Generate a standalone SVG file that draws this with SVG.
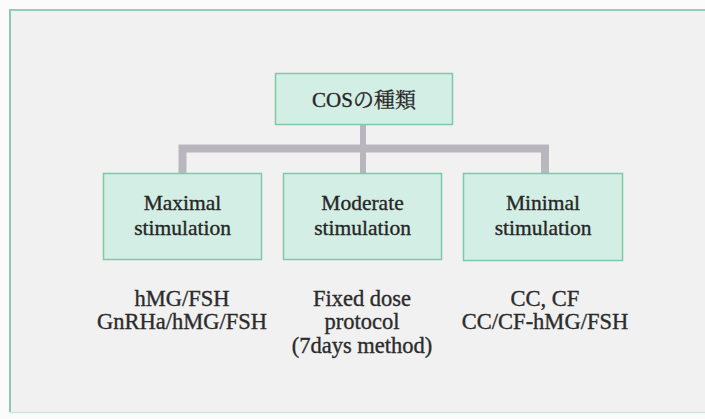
<svg xmlns="http://www.w3.org/2000/svg" width="705" height="419" viewBox="0 0 705 419">
  <style>
    .box { fill: #d3eee4; stroke: #7fc9aa; stroke-width: 1.5; }
    .bar { fill: none; stroke: #b9b7bd; stroke-width: 8; stroke-linejoin: miter; }
    .stem { fill: none; stroke: #b9b7bd; stroke-width: 6; }
    .ink { stroke: #2a2a2a; stroke-width: 0.35; }
  </style>

  <!-- page background and frame -->
  <rect x="0" y="0" width="705" height="419" fill="#fbfbfb"/>
  <rect x="10" y="10" width="695" height="402" fill="#f1f1f1"/>
  <line x1="10" y1="10" x2="705" y2="10" stroke="#95cdb8" stroke-width="2"/>
  <line x1="10" y1="9" x2="10" y2="412" stroke="#88cab2" stroke-width="2"/>
  <line x1="10" y1="412.5" x2="705" y2="412.5" stroke="#cfe6dd" stroke-width="1.5"/>

  <!-- connectors -->
  <g id="connectors">
    <line class="stem" x1="363" y1="124" x2="363" y2="149"/>
    <polyline class="bar" points="182.5,173 182.5,148.5 545,148.5 545,173"/>
    <line class="stem" x1="363" y1="149" x2="363" y2="173"/>
  </g>

  <!-- root node -->
  <g id="node-cos">
    <rect class="box" x="275.5" y="73.5" width="177" height="51"/>
    <text class="ink" x="364" y="107" font-family="Liberation Serif, Noto Serif CJK JP, serif" font-size="21" fill="#262626" text-anchor="middle">COSの種類</text>
  </g>

  <!-- stimulation categories -->
  <g id="node-maximal">
    <rect class="box" x="103.5" y="173.5" width="158" height="86"/>
    <text class="ink" x="182.5" y="210" font-family="Liberation Serif" font-size="21.5" fill="#262626" text-anchor="middle">Maximal</text>
    <text class="ink" x="182.5" y="235" font-family="Liberation Serif" font-size="21.5" fill="#262626" text-anchor="middle">stimulation</text>
  </g>
  <g id="node-moderate">
    <rect class="box" x="283.5" y="173.5" width="158" height="86"/>
    <text class="ink" x="362.5" y="210" font-family="Liberation Serif" font-size="21.5" fill="#262626" text-anchor="middle">Moderate</text>
    <text class="ink" x="362.5" y="235" font-family="Liberation Serif" font-size="21.5" fill="#262626" text-anchor="middle">stimulation</text>
  </g>
  <g id="node-minimal">
    <rect class="box" x="463.5" y="173.5" width="159" height="87"/>
    <text class="ink" x="543" y="210" font-family="Liberation Serif" font-size="21.5" fill="#262626" text-anchor="middle">Minimal</text>
    <text class="ink" x="543" y="235" font-family="Liberation Serif" font-size="21.5" fill="#262626" text-anchor="middle">stimulation</text>
  </g>

  <!-- protocol notes under each category -->
  <g id="note-maximal">
    <text class="ink" x="182" y="306" font-family="Liberation Serif" font-size="22.5" fill="#2c2c2c" text-anchor="middle">hMG/FSH</text>
    <text class="ink" x="182" y="329" font-family="Liberation Serif" font-size="22.5" fill="#2c2c2c" text-anchor="middle">GnRHa/hMG/FSH</text>
  </g>
  <g id="note-moderate">
    <text class="ink" x="362" y="306" font-family="Liberation Serif" font-size="22.5" fill="#2c2c2c" text-anchor="middle">Fixed dose</text>
    <text class="ink" x="362" y="329" font-family="Liberation Serif" font-size="22.5" fill="#2c2c2c" text-anchor="middle">protocol</text>
    <text class="ink" x="362" y="353" font-family="Liberation Serif" font-size="22.5" fill="#2c2c2c" text-anchor="middle">(7days method)</text>
  </g>
  <g id="note-minimal">
    <text class="ink" x="545" y="306" font-family="Liberation Serif" font-size="22.5" fill="#2c2c2c" text-anchor="middle">CC, CF</text>
    <text class="ink" x="545" y="329" font-family="Liberation Serif" font-size="22.5" fill="#2c2c2c" text-anchor="middle">CC/CF-hMG/FSH</text>
  </g>
</svg>
